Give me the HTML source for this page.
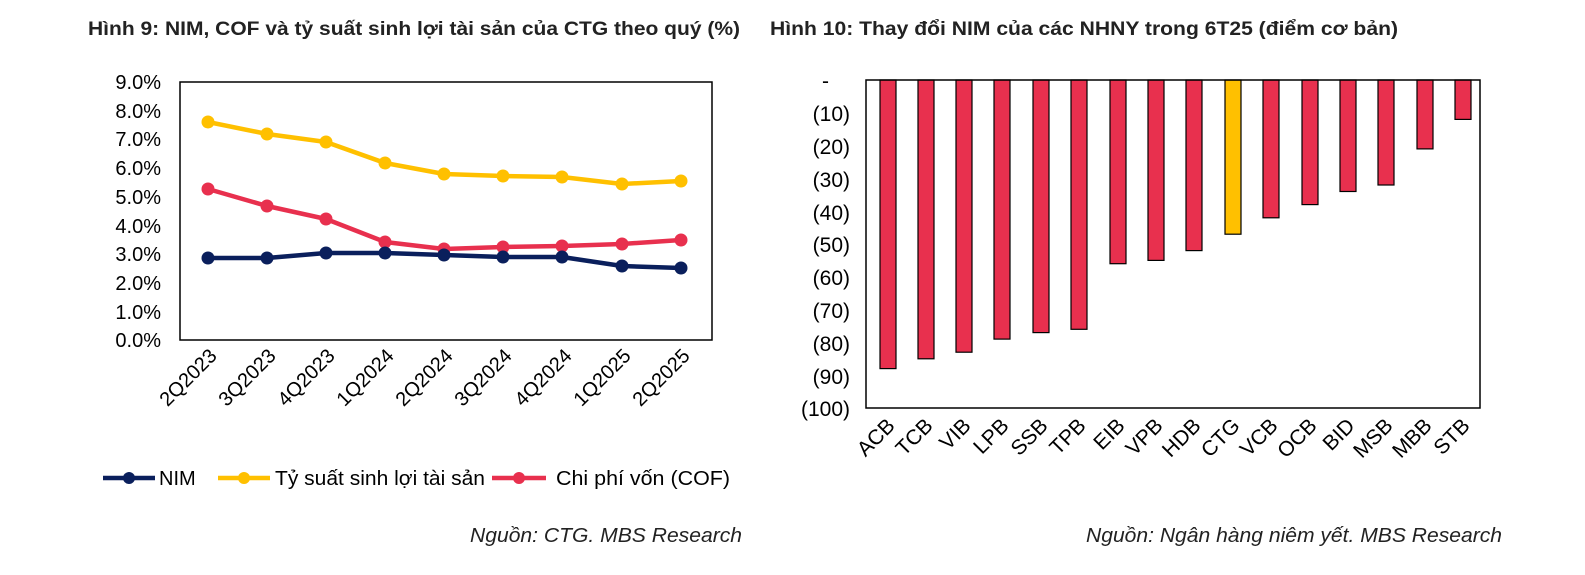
<!DOCTYPE html>
<html><head><meta charset="utf-8"><style>
body{margin:0;background:#fff;width:1585px;height:570px;overflow:hidden}
svg text{font-family:"Liberation Sans",sans-serif}
</style></head><body>
<svg width="1585" height="570" xmlns="http://www.w3.org/2000/svg">
<text x="88" y="35" font-size="19.5" font-weight="bold" fill="#222" textLength="652" lengthAdjust="spacingAndGlyphs">Hình 9: NIM, COF và tỷ suất sinh lợi tài sản của CTG theo quý (%)</text>
<text x="770" y="35" font-size="19.5" font-weight="bold" fill="#222" textLength="628" lengthAdjust="spacingAndGlyphs">Hình 10: Thay đổi NIM của các NHNY trong 6T25 (điểm cơ bản)</text>
<rect x="180" y="82" width="532" height="258" fill="none" stroke="#000" stroke-width="1.5"/>
<g font-size="20" fill="#000" text-anchor="end">
<text x="161" y="89">9.0%</text><text x="161" y="118">8.0%</text><text x="161" y="146">7.0%</text><text x="161" y="175">6.0%</text><text x="161" y="204">5.0%</text><text x="161" y="233">4.0%</text><text x="161" y="261">3.0%</text><text x="161" y="290">2.0%</text><text x="161" y="319">1.0%</text><text x="161" y="347">0.0%</text>
</g>
<g font-size="20" fill="#000" text-anchor="end">
<text transform="translate(218,357) rotate(-45)">2Q2023</text>
<text transform="translate(277,357) rotate(-45)">3Q2023</text>
<text transform="translate(336,357) rotate(-45)">4Q2023</text>
<text transform="translate(395,357) rotate(-45)">1Q2024</text>
<text transform="translate(454,357) rotate(-45)">2Q2024</text>
<text transform="translate(513,357) rotate(-45)">3Q2024</text>
<text transform="translate(573,357) rotate(-45)">4Q2024</text>
<text transform="translate(632,357) rotate(-45)">1Q2025</text>
<text transform="translate(691,357) rotate(-45)">2Q2025</text>
</g>
<g stroke-width="4.5" fill="none" stroke-linejoin="round">
<polyline stroke="#FFC000" points="208,122 267,134 326,142 385,163 444,174 503,176 562,177 622,184 681,181"/>
<polyline stroke="#E8304E" points="208,189 267,206 326,219 385,242 444,249 503,247 562,246 622,244 681,240"/>
<polyline stroke="#0A1F5C" points="208,258 267,258 326,253 385,253 444,255 503,257 562,257 622,266 681,268"/>
</g>
<g fill="#FFC000"><circle cx="208" cy="122" r="6.5"/><circle cx="267" cy="134" r="6.5"/><circle cx="326" cy="142" r="6.5"/><circle cx="385" cy="163" r="6.5"/><circle cx="444" cy="174" r="6.5"/><circle cx="503" cy="176" r="6.5"/><circle cx="562" cy="177" r="6.5"/><circle cx="622" cy="184" r="6.5"/><circle cx="681" cy="181" r="6.5"/></g>
<g fill="#E8304E"><circle cx="208" cy="189" r="6.5"/><circle cx="267" cy="206" r="6.5"/><circle cx="326" cy="219" r="6.5"/><circle cx="385" cy="242" r="6.5"/><circle cx="444" cy="249" r="6.5"/><circle cx="503" cy="247" r="6.5"/><circle cx="562" cy="246" r="6.5"/><circle cx="622" cy="244" r="6.5"/><circle cx="681" cy="240" r="6.5"/></g>
<g fill="#0A1F5C"><circle cx="208" cy="258" r="6.5"/><circle cx="267" cy="258" r="6.5"/><circle cx="326" cy="253" r="6.5"/><circle cx="385" cy="253" r="6.5"/><circle cx="444" cy="255" r="6.5"/><circle cx="503" cy="257" r="6.5"/><circle cx="562" cy="257" r="6.5"/><circle cx="622" cy="266" r="6.5"/><circle cx="681" cy="268" r="6.5"/></g>
<g stroke-width="4.5">
<line x1="103" y1="478" x2="155" y2="478" stroke="#0A1F5C"/><circle cx="129" cy="478" r="6" fill="#0A1F5C"/>
<line x1="218" y1="478" x2="270" y2="478" stroke="#FFC000"/><circle cx="244" cy="478" r="6" fill="#FFC000"/>
<line x1="492" y1="478" x2="546" y2="478" stroke="#E8304E"/><circle cx="519" cy="478" r="6" fill="#E8304E"/>
</g>
<g font-size="20" fill="#000"><text x="159" y="485">NIM</text><text x="275" y="485" textLength="210" lengthAdjust="spacingAndGlyphs">Tỷ suất sinh lợi tài sản</text><text x="556" y="485" textLength="174" lengthAdjust="spacingAndGlyphs">Chi phí vốn (COF)</text></g>
<text x="742" y="542" font-size="20" font-style="italic" text-anchor="end" fill="#222" textLength="272" lengthAdjust="spacingAndGlyphs">Nguồn: CTG. MBS Research</text>
<text x="1502" y="542" font-size="20" font-style="italic" text-anchor="end" fill="#222" textLength="416" lengthAdjust="spacingAndGlyphs">Nguồn: Ngân hàng niêm yết. MBS Research</text>
<g font-size="21" fill="#000" text-anchor="end">
<text x="829" y="88">-</text><text x="850" y="121">(10)</text><text x="850" y="154">(20)</text><text x="850" y="187">(30)</text><text x="850" y="220">(40)</text><text x="850" y="252">(50)</text><text x="850" y="285">(60)</text><text x="850" y="318">(70)</text><text x="850" y="351">(80)</text><text x="850" y="384">(90)</text><text x="850" y="416">(100)</text>
</g>
<g stroke="#000" stroke-width="1.2" fill="#E8304E">
<rect x="880" y="80" width="16" height="288.6"/>
<rect x="918" y="80" width="16" height="278.8"/>
<rect x="956" y="80" width="16" height="272.2"/>
<rect x="994" y="80" width="16" height="259.1"/>
<rect x="1033" y="80" width="16" height="252.6"/>
<rect x="1071" y="80" width="16" height="249.3"/>
<rect x="1110" y="80" width="16" height="183.7"/>
<rect x="1148" y="80" width="16" height="180.4"/>
<rect x="1186" y="80" width="16" height="170.6"/>
<rect x="1225" y="80" width="16" height="154.2" fill="#FFC000"/>
<rect x="1263" y="80" width="16" height="137.8"/>
<rect x="1302" y="80" width="16" height="124.6"/>
<rect x="1340" y="80" width="16" height="111.5"/>
<rect x="1378" y="80" width="16" height="105"/>
<rect x="1417" y="80" width="16" height="68.9"/>
<rect x="1455" y="80" width="16" height="39.4"/>
</g>
<rect x="866" y="80" width="614" height="328" fill="none" stroke="#000" stroke-width="1.5"/>
<g font-size="21" fill="#000" text-anchor="end">
<text transform="translate(896,427) rotate(-45)">ACB</text>
<text transform="translate(934,427) rotate(-45)">TCB</text>
<text transform="translate(972,427) rotate(-45)">VIB</text>
<text transform="translate(1010,427) rotate(-45)">LPB</text>
<text transform="translate(1049,427) rotate(-45)">SSB</text>
<text transform="translate(1087,427) rotate(-45)">TPB</text>
<text transform="translate(1126,427) rotate(-45)">EIB</text>
<text transform="translate(1164,427) rotate(-45)">VPB</text>
<text transform="translate(1202,427) rotate(-45)">HDB</text>
<text transform="translate(1241,427) rotate(-45)">CTG</text>
<text transform="translate(1279,427) rotate(-45)">VCB</text>
<text transform="translate(1318,427) rotate(-45)">OCB</text>
<text transform="translate(1356,427) rotate(-45)">BID</text>
<text transform="translate(1394,427) rotate(-45)">MSB</text>
<text transform="translate(1433,427) rotate(-45)">MBB</text>
<text transform="translate(1471,427) rotate(-45)">STB</text>
</g>
</svg>
</body></html>
